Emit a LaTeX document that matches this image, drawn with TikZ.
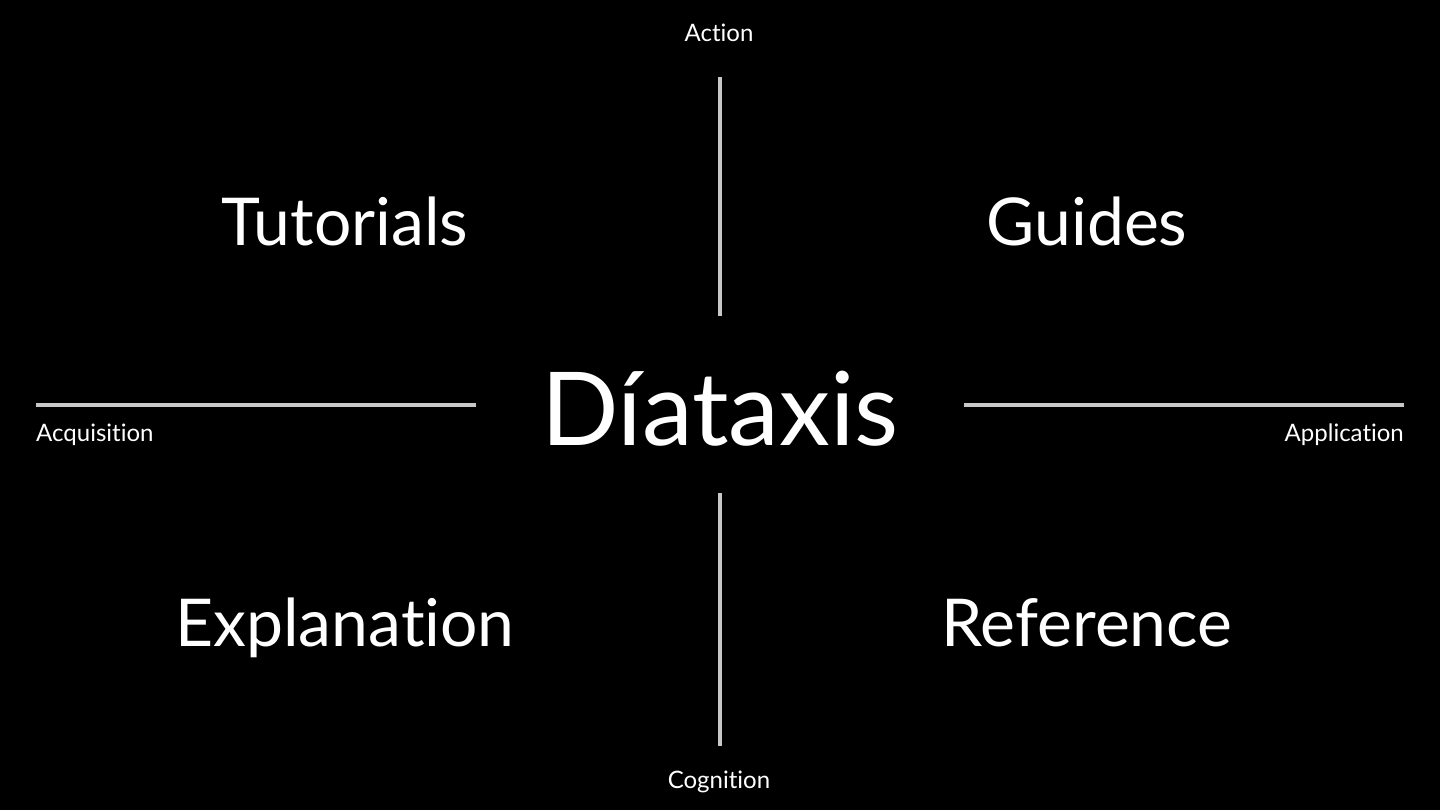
\documentclass[tikz,border=0pt]{standalone}
\usepackage{fontspec}
\setmainfont{Lato}[Ligatures=NoCommon]
\definecolor{axisgray}{RGB}{200,200,200}
\tikzset{
  axis/.style={draw=axisgray, line width=4pt},
  quadrant/.style={text=white, inner sep=0pt, anchor=base, font=\fontsize{66}{80}\selectfont},
  pole/.style={text=white, inner sep=0pt, font=\fontsize{24}{29}\selectfont},
  title/.style={text=white, inner sep=0pt, anchor=base, font=\fontsize{102}{120}\selectfont}
}
\begin{document}
\begin{tikzpicture}[x=1pt, y=-1pt]
\fill[black] (0,0) rectangle (1440,810);
\useasboundingbox (0,0) rectangle (1440,810);

% axes
\coordinate (acttop) at (720,77);
\coordinate (actbot) at (720,316);
\coordinate (cogtop) at (720,493);
\coordinate (cogbot) at (720,746);
\coordinate (acqleft) at (36,405);
\coordinate (acqright) at (476,405);
\coordinate (appleft) at (964,405);
\coordinate (appright) at (1404,405);
\draw[axis] (acttop) -- (actbot);
\draw[axis] (cogtop) -- (cogbot);
\draw[axis] (acqleft) -- (acqright);
\draw[axis] (appleft) -- (appright);

% poles
\node[pole, anchor=base] (action) at (719,42) {Action};
\node[pole, anchor=base] (cognition) at (719,788) {Cognition};
\node[pole, anchor=base west] (acquisition) at (36,441) {Acquisition};
\node[pole, anchor=base east] (application) at (1404,441) {Application};

% quadrants
\node[quadrant] (tutorials) at (345,246) {Tutorials};
\node[quadrant] (guides) at (1087,246) {Guides};
\node[quadrant] (explanation) at (345,646) {Explanation};
\node[quadrant] (reference) at (1087,646) {Reference};

\node[title] (diataxis) at (720,445) {Díataxis};
\end{tikzpicture}
\end{document}
